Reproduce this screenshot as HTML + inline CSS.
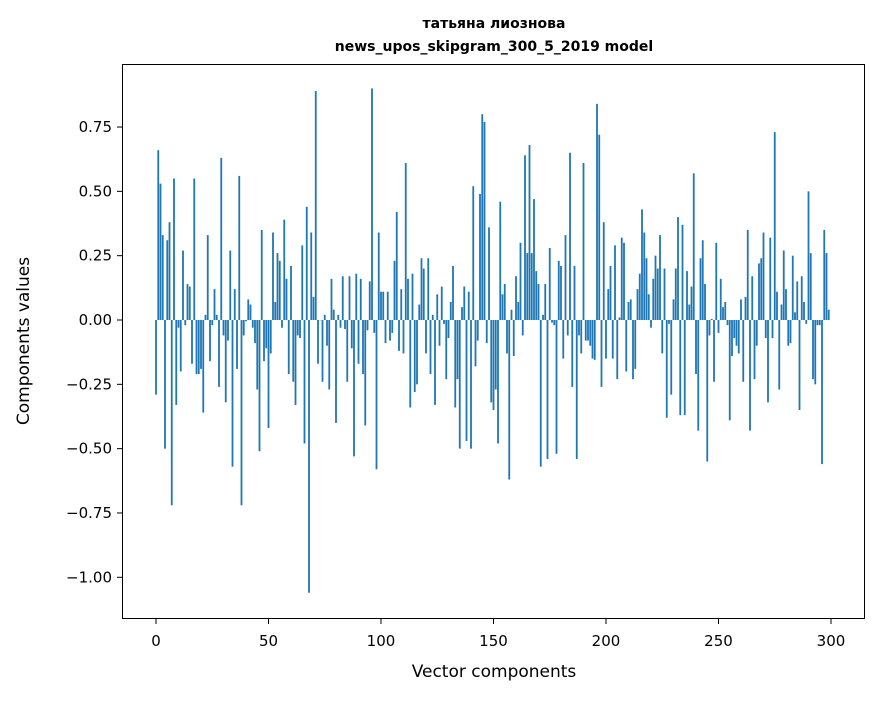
<!DOCTYPE html>
<html><head><meta charset="utf-8"><style>
body{margin:0;background:#fff;}
svg text{font-family:"DejaVu Sans","Liberation Sans",sans-serif;fill:#000;}
</style></head><body>
<svg id="chart" width="880" height="696" xmlns="http://www.w3.org/2000/svg">
<rect width="880" height="696" fill="#fff"/>
<text x="494" y="28" text-anchor="middle" font-size="14" font-weight="bold">татьяна лиознова</text>
<text x="494" y="51" text-anchor="middle" font-size="14" font-weight="bold">news_upos_skipgram_300_5_2019 model</text>
<g id="bars"></g>
<g id="yticks"></g>
<g id="xticks"></g>
<rect x="122.5" y="64.5" width="742" height="554" fill="none" stroke="#000" stroke-width="1"/>
<text x="494" y="677" text-anchor="middle" font-size="17">Vector components</text>
<text transform="translate(29,341) rotate(-90)" text-anchor="middle" font-size="17">Components values</text>
</svg>
<script>
const values = [-0.29,0.66,0.53,0.33,-0.50,0.31,0.38,-0.72,0.55,-0.33,
-0.03,-0.20,0.27,-0.02,0.14,0.13,-0.17,0.55,-0.21,-0.21,
-0.19,-0.36,0.02,0.33,-0.16,-0.02,0.12,0.02,-0.26,0.63,
-0.06,-0.32,-0.08,0.27,-0.57,0.12,-0.19,0.56,-0.72,-0.06,
-0.005,0.08,0.06,-0.03,-0.09,-0.27,-0.51,0.35,-0.16,-0.11,
-0.42,-0.13,0.34,0.07,0.26,0.23,-0.03,0.39,0.16,-0.21,
0.21,-0.24,-0.33,-0.06,-0.07,0.29,-0.48,0.44,-1.06,0.34,
0.09,0.89,-0.17,0.0,-0.24,0.02,-0.10,-0.27,0.16,0.04,
-0.40,0.02,-0.03,0.17,-0.035,-0.24,0.17,-0.11,-0.53,0.18,
-0.17,0.16,-0.21,-0.41,-0.04,0.15,0.90,-0.05,-0.58,0.34,
0.11,0.11,-0.09,0.11,-0.08,-0.05,0.23,0.42,-0.12,0.12,
-0.13,0.61,0.16,-0.34,0.18,-0.28,-0.25,0.06,0.24,0.20,
-0.13,0.24,-0.21,0.02,-0.33,0.10,-0.10,0.13,-0.015,-0.23,
-0.07,0.07,0.21,-0.34,-0.23,-0.50,0.05,0.13,-0.47,0.11,
-0.50,0.52,-0.18,-0.08,0.49,0.80,0.77,-0.09,0.36,-0.32,
-0.35,-0.27,-0.48,0.46,0.10,0.14,-0.13,-0.62,0.04,-0.14,
0.17,0.07,0.30,-0.06,0.64,0.26,0.68,0.26,0.47,0.19,
0.14,-0.57,0.02,0.14,-0.54,0.28,-0.01,-0.02,-0.52,0.23,
0.21,-0.15,0.33,-0.06,0.65,-0.26,0.21,-0.54,-0.06,-0.13,
0.61,-0.08,-0.08,-0.10,-0.15,-0.155,0.84,0.72,-0.26,0.38,
-0.15,0.12,0.21,-0.15,0.29,-0.23,0.01,0.32,0.30,-0.20,
0.07,0.08,-0.23,-0.19,0.12,0.18,0.43,0.34,0.24,0.10,
-0.03,0.16,0.25,0.20,0.33,-0.13,0.20,-0.38,-0.015,-0.29,
0.08,0.20,0.40,-0.37,0.37,-0.37,0.19,0.06,0.13,0.57,
-0.21,-0.43,0.24,0.31,0.14,-0.55,-0.06,0.004,-0.24,0.30,
-0.05,0.16,0.05,0.07,-0.02,-0.39,-0.14,-0.07,-0.10,-0.13,
0.08,-0.24,0.09,0.35,-0.43,0.17,-0.23,-0.10,0.22,0.24,
0.34,-0.07,-0.32,0.32,-0.07,0.73,0.11,-0.27,0.06,0.27,
0.12,-0.10,-0.09,0.25,0.03,0.15,-0.35,0.17,0.07,-0.015,
0.50,0.26,-0.23,-0.25,-0.02,-0.02,-0.56,0.35,0.26,0.04];
const yTickValues = [0.75,0.5,0.25,0.0,-0.25,-0.5,-0.75,-1.0];
const yTickLabels = ["0.75","0.50","0.25","0.00","\u22120.25","\u22120.50","\u22120.75","\u22121.00"];
const xTickValues = [0,50,100,150,200,250,300];
const xTickLabels = ["0","50","100","150","200","250","300"];

const NS="http://www.w3.org/2000/svg";
function xScale(i){return 156+i*2.25;}
function yScale(v){return 320-v*257.3;}
const bars=document.getElementById('bars');
values.forEach((v,i)=>{
  const r=document.createElementNS(NS,'rect');
  const y0=yScale(0), y1=yScale(v);
  r.setAttribute('x',xScale(i)-0.9);
  r.setAttribute('width',1.8);
  r.setAttribute('y',Math.min(y0,y1));
  r.setAttribute('height',Math.max(Math.abs(y1-y0),0.3));
  r.setAttribute('fill','#1f77b4');
  
  
  bars.appendChild(r);
});
const yg=document.getElementById('yticks');
yTickValues.forEach((v,k)=>{
  const y=yScale(v);
  const l=document.createElementNS(NS,'line');
  l.setAttribute('x1',117);l.setAttribute('x2',122);l.setAttribute('y1',y);l.setAttribute('y2',y);
  l.setAttribute('stroke','#000');
  
  
  yg.appendChild(l);
  const t=document.createElementNS(NS,'text');
  t.setAttribute('x',112);t.setAttribute('y',y+5);t.setAttribute('text-anchor','end');t.setAttribute('font-size','15');
  t.textContent=yTickLabels[k];
  
  
  yg.appendChild(t);
});
const xg=document.getElementById('xticks');
xTickValues.forEach((v,k)=>{
  const x=xScale(v);
  const l=document.createElementNS(NS,'line');
  l.setAttribute('x1',x);l.setAttribute('x2',x);l.setAttribute('y1',619);l.setAttribute('y2',624);
  l.setAttribute('stroke','#000');
  
  
  xg.appendChild(l);
  const t=document.createElementNS(NS,'text');
  t.setAttribute('x',x);t.setAttribute('y',646);t.setAttribute('text-anchor','middle');t.setAttribute('font-size','15');
  t.textContent=xTickLabels[k];
  
  
  xg.appendChild(t);
});
</script>
</body></html>
